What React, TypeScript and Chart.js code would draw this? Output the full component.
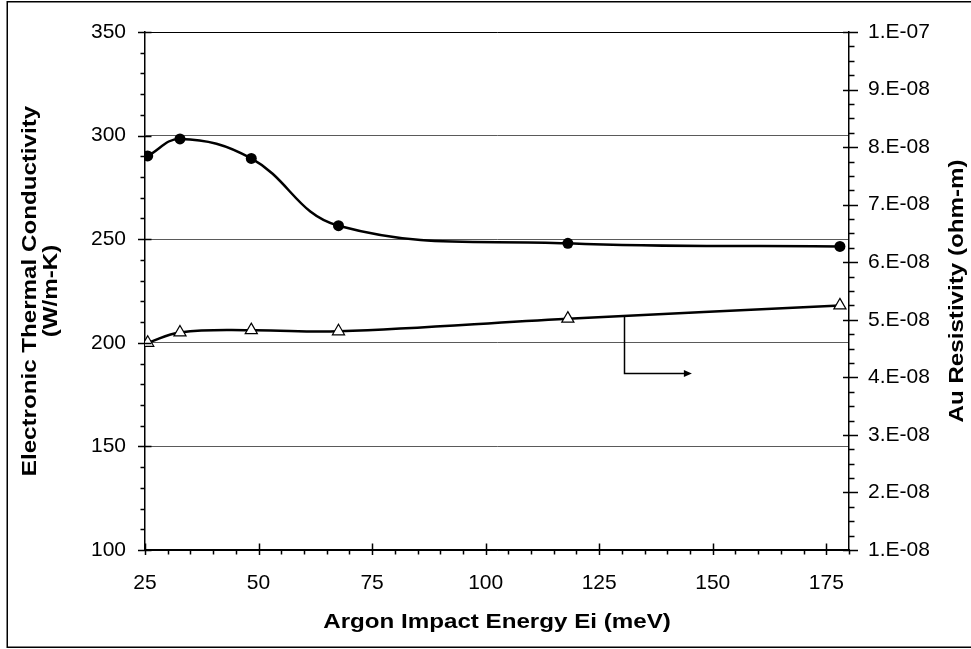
import { useEffect, useRef } from 'react';
import { Chart, registerables } from 'chart.js';

Chart.register(...registerables);

// ---- data ----
const X_VALUES = [25.6, 32.7, 48.4, 67.6, 118.1, 178.0];
const CONDUCTIVITY = [290.2, 298.4, 289.0, 256.5, 248.0, 246.5];
const RESISTIVITY = [4.6e-8, 4.78e-8, 4.82e-8, 4.8e-8, 5.02e-8, 5.25e-8];

// ---- axes ----
const X_TICKS = [25, 50, 75, 100, 125, 150, 175];
const X_MIN = 25;
const X_MAX = 180;
const X_MINOR_STEP = 5;
const LEFT_TICKS = [100, 150, 200, 250, 300, 350];
const LEFT_MINOR_STEP = 10;
const RIGHT_TICKS = [1e-8, 2e-8, 3e-8, 4e-8, 5e-8, 6e-8, 7e-8, 8e-8, 9e-8, 1e-7];
const RIGHT_TICK_LABELS = ['1.E-08', '2.E-08', '3.E-08', '4.E-08', '5.E-08', '6.E-08', '7.E-08', '8.E-08', '9.E-08', '1.E-07'];
const RIGHT_MINOR_STEP = 2.5e-9;

// ---- text ----
const X_TITLE = 'Argon Impact Energy Ei (meV)';
const LEFT_TITLE = ['Electronic Thermal Conductivity', '(W/m-K)'];
const RIGHT_TITLE = 'Au Resistivity (ohm-m)';

// ---- arrow annotation (x in meV, y in left-axis units) ----
const ARROW_X = [130.5, 130.5, 145.4];
const ARROW_Y = [213, 185.6, 185.6];

const FONT = "'Liberation Sans', Arial, Helvetica, sans-serif";

const decorPlugin = {
  id: 'decor',
  afterDraw(chart: any) {
    const ctx = chart.ctx as CanvasRenderingContext2D;
    const xs = chart.scales.x;
    const yl = chart.scales.y;
    const yr = chart.scales.y2;
    const area = chart.chartArea;
    ctx.save();
    ctx.strokeStyle = '#000';
    ctx.lineWidth = 1.5;
    ctx.beginPath();
    // x ticks
    for (const v of X_TICKS) {
      const px = Math.round(xs.getPixelForValue(v)) + 0.5;
      ctx.moveTo(px, area.bottom - 6.5);
      ctx.lineTo(px, area.bottom + 5);
    }
    for (let k = 0; X_MIN + k * X_MINOR_STEP <= X_MAX + 1e-9; k++) {
      const v = X_MIN + k * X_MINOR_STEP;
      if (X_TICKS.includes(v)) continue;
      const px = Math.round(xs.getPixelForValue(v)) + 0.5;
      ctx.moveTo(px, area.bottom);
      ctx.lineTo(px, area.bottom + 4.5);
    }
    // left ticks
    for (const v of LEFT_TICKS) {
      const py = Math.round(yl.getPixelForValue(v)) + 0.5;
      ctx.moveTo(area.left - 7, py);
      ctx.lineTo(area.left + 6.5, py);
    }
    for (let v = LEFT_TICKS[0]; v <= LEFT_TICKS[LEFT_TICKS.length - 1]; v += LEFT_MINOR_STEP) {
      if (LEFT_TICKS.includes(v)) continue;
      const py = Math.round(yl.getPixelForValue(v)) + 0.5;
      ctx.moveTo(area.left - 4.5, py);
      ctx.lineTo(area.left, py);
    }
    // right ticks
    for (const v of RIGHT_TICKS) {
      const py = Math.round(yr.getPixelForValue(v)) + 0.5;
      ctx.moveTo(area.right - 6, py);
      ctx.lineTo(area.right + 9, py);
    }
    const rMin = RIGHT_TICKS[0];
    const rMax = RIGHT_TICKS[RIGHT_TICKS.length - 1];
    const nMinor = Math.round((rMax - rMin) / RIGHT_MINOR_STEP);
    for (let k = 0; k <= nMinor; k++) {
      if (k % 4 === 0) continue;
      const v = rMin + k * RIGHT_MINOR_STEP;
      const py = Math.round(yr.getPixelForValue(v)) + 0.5;
      ctx.moveTo(area.right, py);
      ctx.lineTo(area.right + 5.5, py);
    }
    ctx.stroke();

    // arrow
    ctx.lineWidth = 1.5;
    ctx.beginPath();
    ARROW_X.forEach((xv, i) => {
      const px = xs.getPixelForValue(xv);
      const py = yl.getPixelForValue(ARROW_Y[i]);
      if (i === 0) ctx.moveTo(Math.round(px) + 0.5, py);
      else ctx.lineTo(i === ARROW_X.length - 1 ? px - 6 : Math.round(px) + 0.5, Math.round(py) + 0.5);
    });
    ctx.stroke();
    {
      const n = ARROW_X.length - 1;
      const tx = xs.getPixelForValue(ARROW_X[n]);
      const ty = Math.round(yl.getPixelForValue(ARROW_Y[n])) + 0.5;
      ctx.fillStyle = '#000';
      ctx.beginPath();
      ctx.moveTo(tx, ty);
      ctx.lineTo(tx - 8, ty - 3.5);
      ctx.lineTo(tx - 8, ty + 3.5);
      ctx.closePath();
      ctx.fill();
    }

    // titles
    ctx.fillStyle = '#000';
    ctx.font = `bold 21px ${FONT}`;
    ctx.textAlign = 'center';
    ctx.textBaseline = 'middle';
    const sx = 1.15;
    // x title
    ctx.save();
    ctx.translate((area.left + area.right) / 2, 622);
    ctx.scale(sx, 1);
    ctx.fillText(X_TITLE, 0, 0);
    ctx.restore();
    // left title
    const cy = (area.top + area.bottom) / 2;
    const lx = [30, 51];
    LEFT_TITLE.forEach((t, i) => {
      ctx.save();
      ctx.translate(lx[i], cy);
      ctx.rotate(-Math.PI / 2);
      ctx.scale(sx, 1);
      ctx.fillText(t, 0, 0);
      ctx.restore();
    });
    // right title
    ctx.save();
    ctx.translate(957, cy);
    ctx.rotate(-Math.PI / 2);
    ctx.scale(sx, 1);
    ctx.fillText(RIGHT_TITLE, 0, 0);
    ctx.restore();

    // outer border
    ctx.lineWidth = 1.5;
    ctx.strokeStyle = '#000';
    ctx.strokeRect(7.25, 1.75, 990, 645.5);
    ctx.restore();
  },
};

export default function App() {
  const ref = useRef<HTMLCanvasElement | null>(null);
  useEffect(() => {
    if (!ref.current) return;
    const tickFont = { family: FONT, size: 21 };
    const chart = new Chart(ref.current, {
      type: 'line',
      data: {
        datasets: [
          {
            label: 'Electronic Thermal Conductivity',
            data: X_VALUES.map((x, i) => ({ x, y: CONDUCTIVITY[i] })),
            yAxisID: 'y',
            borderColor: '#000',
            borderWidth: 2.5,
            backgroundColor: '#000',
            pointStyle: 'circle',
            pointRadius: 5.5,
            pointBackgroundColor: '#000',
            pointBorderColor: '#000',
            pointBorderWidth: 0,
            tension: 0.4,
            fill: false,
          },
          {
            label: 'Au Resistivity',
            data: X_VALUES.map((x, i) => ({ x, y: RESISTIVITY[i] })),
            yAxisID: 'y2',
            borderColor: '#000',
            borderWidth: 2.5,
            backgroundColor: '#fff',
            pointStyle: 'triangle',
            pointRadius: 7,
            pointBackgroundColor: '#fff',
            pointBorderColor: '#000',
            pointBorderWidth: 1.2,
            tension: 0.4,
            fill: false,
          },
        ],
      },
      options: {
        animation: false,
        responsive: false,
        maintainAspectRatio: false,
        devicePixelRatio: 1,
        layout: { padding: { top: 32, left: 0, right: 0, bottom: 0 } },
        plugins: { legend: { display: false }, tooltip: { enabled: false } },
        scales: {
          x: {
            type: 'linear',
            position: 'bottom',
            min: X_MIN,
            max: X_MAX,
            afterBuildTicks: (s: any) => {
              s.ticks = X_TICKS.map((v) => ({ value: v }));
            },
            afterFit: (s: any) => {
              s.height = 99;
            },
            grid: { display: false, drawTicks: false },
            border: { display: true, color: '#000', width: 1.5 },
            ticks: {
              padding: 21,
              color: '#000',
              font: tickFont,
              maxRotation: 0,
              autoSkip: false,
              callback: (v: any) => String(v),
            },
          },
          y: {
            type: 'linear',
            position: 'left',
            min: LEFT_TICKS[0],
            max: LEFT_TICKS[LEFT_TICKS.length - 1],
            afterBuildTicks: (s: any) => {
              s.ticks = LEFT_TICKS.map((v) => ({ value: v }));
            },
            afterFit: (s: any) => {
              s.width = 145;
            },
            grid: {
              display: true,
              drawTicks: false,
              lineWidth: 1,
              color: (c: any) => (c.tick && (c.tick.value === 350 || c.tick.value === 100) ? '#000' : '#5a5a5a'),
            },
            border: { display: true, color: '#000', width: 1.5 },
            ticks: {
              padding: 19,
              color: '#000',
              font: tickFont,
              autoSkip: false,
              callback: (v: any) => String(v),
            },
          },
          y2: {
            type: 'linear',
            position: 'right',
            min: RIGHT_TICKS[0],
            max: RIGHT_TICKS[RIGHT_TICKS.length - 1],
            afterBuildTicks: (s: any) => {
              s.ticks = RIGHT_TICKS.map((v) => ({ value: v }));
            },
            afterFit: (s: any) => {
              s.width = 122;
            },
            grid: { display: false, drawTicks: false },
            border: { display: true, color: '#000', width: 1.5 },
            ticks: {
              padding: 19,
              color: '#000',
              font: tickFont,
              autoSkip: false,
              callback: (_v: any, i: number) => RIGHT_TICK_LABELS[i],
            },
          },
        },
      },
      plugins: [decorPlugin],
    });
    return () => chart.destroy();
  }, []);
  return (
    <div style={{ position: 'absolute', left: 0, top: 0, width: 971, height: 649, background: '#fff' }}>
      <canvas ref={ref} width={971} height={649} style={{ display: 'block', width: 971, height: 649 }} />
    </div>
  );
}
